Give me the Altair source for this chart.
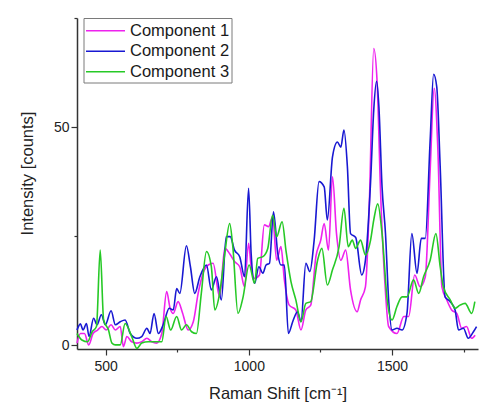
import altair as alt
import pandas as pd

names = ["Component 1", "Component 2", "Component 3"]
colors = ["#EE22EE", "#1818D2", "#26C926"]

c1_x = [400, 412, 426, 441, 456, 472, 487, 502, 519, 534, 551, 562, 574, 591, 609, 626, 644, 661, 678, 696,
        713, 725, 736, 753, 769, 788, 806, 823, 840, 858, 875, 898, 916, 933, 950, 968, 985, 999, 1008, 1020,
        1037, 1054, 1069, 1083, 1097, 1112, 1124, 1141, 1164, 1182, 1199, 1216, 1234, 1251, 1263, 1278, 1292,
        1306, 1321, 1338, 1355, 1378, 1390, 1407, 1421, 1436, 1448, 1460, 1475, 1488, 1517, 1541, 1558, 1579,
        1598, 1616, 1633, 1647, 1660, 1674, 1691, 1708, 1726, 1743, 1760, 1778, 1790]
c1_y = [0.5, 2.7, 2.7, 0.1, 2.7, 3.5, 4.3, 3.5, 4.7, 3.5, 4.3, -0.3, 2.0, 0.8, 0.5, 0.8, 1.6, 0.8, 0.5, 2.7,
        12.3, 8.5, 7.3, 10.0, 7.3, 3.5, 5.4, 11.9, 16.5, 18.4, 18.8, 11.1, 22.2, 21.0, 19.2, 18.0, 13.4, 23.4, 18.0, 15.3,
        16.1, 27.6, 27.2, 29.5, 19.5, 22.6, 15.0, 9.2, 8.1, 3.5, 8.1, 9.2, 20.3, 24.1, 27.9, 21.8, 38.6,
        25.6, 19.5, 21.8, 12.7, 7.7, 10.4, 13.4, 33.3, 68.0, 60.0, 34.8, 14.2, 4.3, 2.7, 6.6, 6.6, 16.1,
        13.4, 15.7, 40.2, 58.9, 44.7, 13.4, 10.4, 8.1, 7.3, 3.9, 4.3, 1.6, 2.3]

c2_x = [400, 412, 421, 433, 442, 458, 470, 485, 499, 519, 534, 551, 568, 586, 609, 626, 644, 655, 669, 684,
        701, 722, 736, 748, 759, 782, 796, 811, 829, 852, 869, 887, 904, 921, 935, 950, 968, 985, 999, 1008,
        1020, 1035, 1049, 1060, 1072, 1086, 1101, 1112, 1124, 1138, 1153, 1170, 1182, 1199, 1213, 1228, 1245,
        1263, 1274, 1292, 1309, 1321, 1332, 1344, 1355, 1373, 1394, 1407, 1425, 1436, 1446, 1454, 1465, 1477,
        1488, 1500, 1517, 1535, 1552, 1569, 1587, 1602, 1616, 1633, 1645, 1656, 1668, 1685, 1703, 1720, 1732,
        1749, 1766, 1784, 1795]
c2_y = [3.5, 4.9, 3.5, 5.0, 2.0, 6.2, 4.7, 7.0, 4.7, 7.9, 4.7, 5.4, 5.8, 2.7, 1.6, 2.0, 3.9, 2.7, 7.3, 2.7,
        4.7, 8.5, 8.1, 13.0, 11.9, 22.8, 18.0, 11.9, 15.7, 18.4, 12.7, 15.7, 10.4, 24.9, 24.9, 21.8, 20.3, 15.7, 36.0, 21.0,
        14.2, 18.0, 16.5, 18.4, 18.8, 30.6, 21.0, 18.4, 18.4, 2.7, 5.4, 7.7, 5.4, 18.8, 16.9, 24.1, 37.5,
        36.3, 28.7, 43.2, 46.6, 45.4, 49.3, 40.9, 25.6, 24.7, 16.1, 19.5, 37.5, 53.9, 60.5, 54.7, 36.3, 25.6,
        10.4, 3.5, 3.9, 3.5, 7.3, 25.6, 16.5, 24.5, 24.5, 47.0, 62.1, 59.2, 40.9, 11.1, 10.0, 8.1, 3.5,
        3.9, 1.6, 3.1, 4.3]

c3_x = [400, 417, 437, 453, 468, 481, 493, 510, 522, 534, 551, 568, 591, 609, 626, 649, 672, 696, 711, 727,
        748, 765, 782, 800, 817, 834, 852, 869, 881, 898, 916, 933, 944, 962, 979, 1001, 1020, 1031, 1049,
        1066, 1083, 1097, 1116, 1130, 1147, 1164, 1182, 1199, 1216, 1240, 1255, 1274, 1292, 1315, 1332, 1347,
        1361, 1373, 1390, 1407, 1425, 1436, 1450, 1465, 1483, 1500, 1517, 1535, 1552, 1575, 1593, 1610, 1633,
        1653, 1668, 1679, 1703, 1720, 1737, 1755, 1778, 1789]
c3_y = [2.7, 1.2, 0.8, 3.1, 4.3, 21.8, 5.8, 3.5, 0.5, 0.1, 0.1, 5.0, 2.0, -0.7, 0.5, 0.8, 0.8, 0.8, 6.6, 3.5,
        6.6, 3.5, 4.7, 3.1, 2.7, 11.9, 21.5, 18.0, 8.1, 11.9, 21.0, 27.9, 22.6, 7.3, 10.8, 18.4, 14.2, 19.9, 20.3,
        22.2, 29.8, 24.9, 28.3, 21.5, 14.6, 10.4, 5.4, 9.6, 10.0, 19.5, 22.2, 13.8, 17.3, 22.6, 31.4, 22.6,
        24.1, 22.2, 24.1, 20.7, 24.1, 28.7, 32.4, 25.6, 10.4, 5.8, 8.9, 11.1, 11.1, 15.0, 11.9, 15.7, 19.5,
        25.6, 18.0, 13.4, 10.4, 8.5, 9.2, 9.6, 7.3, 10.0]

x_ticks = [500, 750, 1000, 1250, 1500, 1750]
y_ticks = [0, 25, 50, 75]

frames = []
for i, (xs, ys) in enumerate([(c1_x, c1_y), (c2_x, c2_y), (c3_x, c3_y)]):
    frames.append(pd.DataFrame({"shift": xs, "intensity": ys, "name": names[i], "order": i}))
df = pd.concat(frames, ignore_index=True)
leg_df = pd.DataFrame({"name": names})
box_df = pd.DataFrame({"k": [0]})

FONT = "Liberation Sans"
color_scale = alt.Scale(domain=names, range=colors)

lines = alt.Chart(df).mark_line(strokeWidth=1.6, interpolate="monotone").encode(
    x=alt.X("shift:Q", scale=alt.Scale(domain=[400, 1800], nice=False, zero=False),
            axis=alt.Axis(values=x_ticks, title="Raman Shift [cm\u207b\u00b9]", format="d",
                          labelExpr="datum.value % 500 === 0 ? datum.label : ''",
                          tickSize={"expr": "datum.value % 500 === 0 ? 6 : 3"},
                          labelPadding=4, titleY=36)),
    y=alt.Y("intensity:Q", scale=alt.Scale(domain=[-0.85, 75], nice=False, zero=False),
            axis=alt.Axis(values=y_ticks, title="Intensity [counts]", format="d",
                          labelExpr="datum.value % 50 === 0 ? datum.label : ''",
                          tickSize={"expr": "datum.value % 50 === 0 ? 6 : 3"},
                          labelPadding=2, titleX=-42, titleY=155)),
    color=alt.Color("name:N", scale=color_scale, legend=None),
    order=alt.Order("order:Q"),
    detail="name:N",
)

box = alt.Chart(box_df).mark_rect(fill="white", stroke="#7a7a7a", strokeWidth=1).encode(
    x=alt.value(7), x2=alt.value(155), y=alt.value(0.5), y2=alt.value(65)
)

leg_y = alt.Y("name:N", scale=alt.Scale(type="point", domain=names, range=[12.7, 53.7], padding=0),
              axis=None)

leg_lines = alt.Chart(leg_df).mark_rule(strokeWidth=1.6).encode(
    x=alt.value(9), x2=alt.value(48), y=leg_y,
    color=alt.Color("name:N", scale=color_scale, legend=None),
)
leg_text = alt.Chart(leg_df).mark_text(align="left", baseline="middle", fontSize=16.5,
                                       font=FONT, color="#1a1a1a").encode(
    x=alt.value(53), y=leg_y, text="name:N"
)

chart = alt.layer(lines, box, leg_lines, leg_text).resolve_scale(y="independent").properties(
    width=401, height=331,
    autosize=alt.AutoSizeParams(type="none"),
    padding={"left": 77, "top": 18, "right": 3, "bottom": 59},
).configure_view(stroke=None).configure_axis(
    grid=False, domainColor="#333333", domainWidth=1.5, tickColor="#333333", tickWidth=1.2,
    labelFont=FONT, labelFontSize=14, labelColor="#222222",
    titleFont=FONT, titleFontSize=16.5, titleFontWeight="normal", titleColor="#222222",
)

chart.save("out.html", embed_options={"renderer": "svg", "actions": False})
